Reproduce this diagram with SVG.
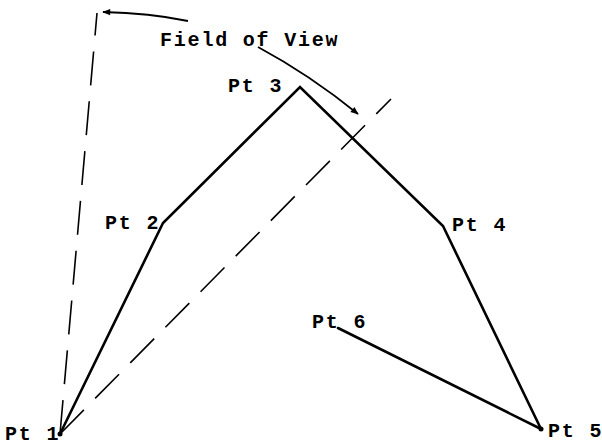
<svg xmlns="http://www.w3.org/2000/svg" width="602" height="447" viewBox="0 0 602 447">
<style>
.t{font-family:"Liberation Mono","Courier New",monospace;font-weight:bold;font-size:20px;letter-spacing:1.8px;fill:#000}
.s{fill:none;stroke:#000;stroke-width:2.6;stroke-linejoin:miter;stroke-linecap:round}
.d{fill:none;stroke:#000;stroke-width:1.6;stroke-dasharray:34 16}
.a{fill:none;stroke:#000;stroke-width:1.8}
</style>
<defs>
<marker id="ah" viewBox="0 0 10 10" refX="9" refY="5" markerWidth="12" markerHeight="8" markerUnits="userSpaceOnUse" orient="auto">
<path d="M0,1 L10,5 L0,9 Z" fill="#000"/>
</marker>
</defs>
<rect width="602" height="447" fill="#fff"/>
<g id="connectors">
<path class="s" d="M60,434 L163,223 L300,87 L443,226 L541,429"/>
<path class="s" d="M338,328 L541,429"/>
<path class="d" d="M60,434 L97,13"/>
<path class="d" d="M60,434 L391,99"/>
<path class="a" d="M188,21 Q150,13 103,12" marker-end="url(#ah)"/>
<path class="a" d="M258,47 Q310,75 358,114" marker-end="url(#ah)"/>
</g>
<g id="fov"><text class="t" x="160" y="46">Field of View</text></g>
<g id="pt1"><text class="t" x="5" y="440">Pt 1</text><circle cx="60" cy="434" r="2.5"/></g>
<g id="pt2"><text class="t" x="105" y="229">Pt 2</text></g>
<g id="pt3"><text class="t" x="228" y="92">Pt 3</text></g>
<g id="pt4"><text class="t" x="452" y="231">Pt 4</text></g>
<g id="pt5"><text class="t" x="548" y="437">Pt 5</text><circle cx="541" cy="429" r="2.5"/></g>
<g id="pt6"><text class="t" x="312" y="328">Pt 6</text></g>
</svg>
